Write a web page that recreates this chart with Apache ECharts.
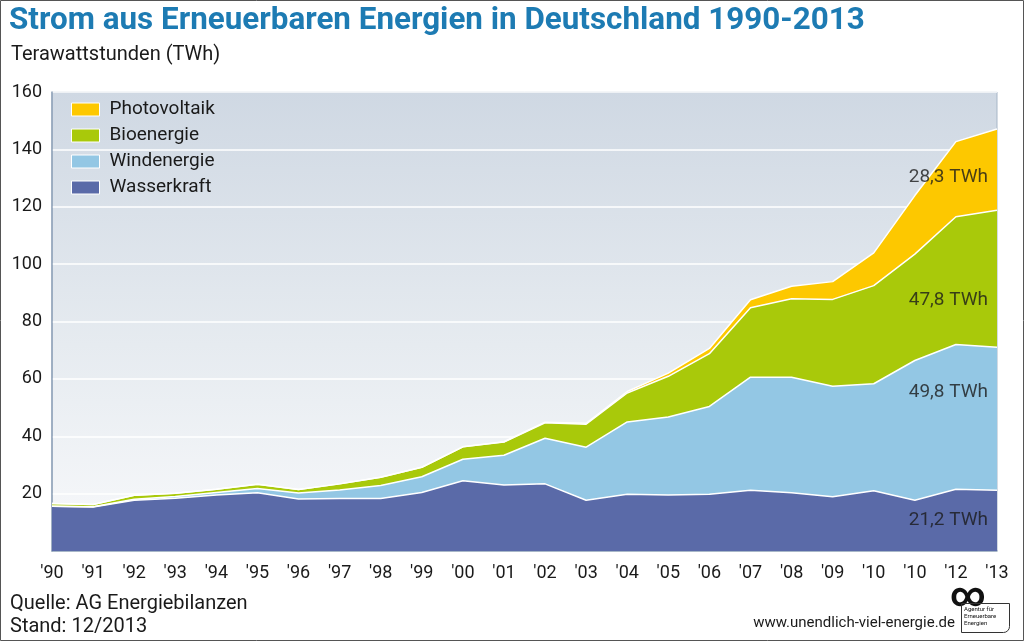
<!DOCTYPE html>
<html><head><meta charset="utf-8">
<script src="https://cdn.jsdelivr.net/npm/echarts@6/dist/echarts.min.js"></script>
<style>html,body{margin:0;padding:0;background:#fff}#c{width:1024px;height:641px}</style>
</head><body><div id="c"></div>
<script>
const years = ["'90","'91","'92","'93","'94","'95","'96","'97","'98","'99","'00","'01","'02","'03","'04","'05","'06","'07","'08","'09","'10","'10","'12","'13"];
const wasserkraft = [15.6,15.3,17.7,18.4,19.5,20.3,18.1,18.3,18.3,20.4,24.5,23.0,23.4,17.7,19.8,19.5,19.8,21.2,20.3,18.9,21.0,17.7,21.5,21.2];
const windenergie = [0.0,0.1,0.3,0.6,0.9,1.5,2.1,3.0,4.5,5.5,7.5,10.4,15.9,18.5,25.2,27.2,30.6,39.4,40.3,38.5,37.3,48.7,50.5,49.8];
const bioenergie  = [1.0,0.8,1.4,1.1,1.1,1.5,1.2,2.1,2.9,3.3,4.3,4.6,5.4,8.0,10.1,14.2,18.4,24.2,27.3,30.3,34.2,37.1,44.5,47.8];
const photovoltaik= [0.0,0.0,0.0,0.0,0.0,0.0,0.0,0.0,0.0,0.0,0.0,0.1,0.2,0.3,0.5,1.1,1.8,2.8,4.4,6.2,11.4,20.4,26.2,28.3];
const yTicks = [0,20,40,60,80,100,120,140,160];
const endLabels = ["21,2 TWh","49,8 TWh","47,8 TWh","28,3 TWh"];
const endLabelY = [10.8,55.3,87.3,130.4];

const FONT = 'Roboto';
const chart = echarts.init(document.getElementById('c'), null, {renderer:'canvas'});
function area(name, data, color){
  return {name, type:'line', stack:'total', data, symbol:'none', smooth:false,
    lineStyle:{color:'#ffffff', width:1.5}, itemStyle:{color},
    areaStyle:{color, opacity:1}, emphasis:{disabled:true}, z:2};
}
chart.setOption({
  animation:false,
  textStyle:{fontFamily:FONT},
  grid:{left:52, right:27, top:92, bottom:90, show:true,
    backgroundColor:new echarts.graphic.LinearGradient(0,0,0,1,[{offset:0,color:'#cfd8e3'},{offset:0.55,color:'#e6ebf0'},{offset:1,color:'#f8f9fb'}]),
    borderColor:'#a7b6c7', borderWidth:1},
  legend:{orient:'vertical', left:66, top:95, itemGap:7, itemWidth:28, itemHeight:13,
    data:['Photovoltaik','Bioenergie','Windenergie','Wasserkraft'],
    textStyle:{fontSize:19, color:'#1a1a1a', fontFamily:FONT, padding:[0,0,0,5]},
    itemStyle:{borderColor:'#ffffff', borderWidth:1}, icon:'rect', selectedMode:false},
  xAxis:{type:'category', data:years, boundaryGap:false,
    axisLine:{lineStyle:{color:'#8fa2b8', width:1.5}}, axisTick:{show:false},
    axisLabel:{fontSize:18, color:'#1a1a1a', margin:13, interval:0, fontFamily:FONT}},
  yAxis:{type:'value', min:yTicks[0], max:yTicks[yTicks.length-1], interval:20,
    axisLine:{show:true, lineStyle:{color:'#8fa2b8', width:1.5}}, axisTick:{show:false},
    axisLabel:{fontSize:18, color:'#1a1a1a', margin:10, fontFamily:FONT, formatter:v=>v===0?'':String(v)},
    splitLine:{lineStyle:{color:'#ffffff', width:1.5}}},
  series:[
    area('Wasserkraft', wasserkraft, '#5a6aa8'),
    area('Windenergie', windenergie, '#93c7e4'),
    area('Bioenergie', bioenergie, '#a9c90a'),
    area('Photovoltaik', photovoltaik, '#fdc800'),
    {type:'scatter', symbolSize:0, silent:true, z:5,
     data:endLabelY.map((v,i)=>({value:[years.length-1, v], name:endLabels[i]})),
     label:{show:true, position:'left', distance:9, formatter:p=>p.name, fontSize:19, color:'#1a1a1a', fontFamily:FONT}}
  ],
  graphic:[
    {type:'rect', shape:{x:0.5,y:0.5,width:1023,height:640}, style:{fill:'none', stroke:'#555', lineWidth:1}, silent:true},
    {type:'text', left:9, top:6, style:{text:'Strom aus Erneuerbaren Energien in Deutschland 1990-2013', fill:'#1d7bb3', font:'bold 31.4px '+FONT}},
    {type:'text', left:11, top:45, style:{text:'Terawattstunden (TWh)', fill:'#1a1a1a', font:'20px '+FONT}},
    {type:'text', left:10, top:594, style:{text:'Quelle: AG Energiebilanzen', fill:'#1a1a1a', font:'20px '+FONT}},
    {type:'text', left:10, top:617, style:{text:'Stand: 12/2013', fill:'#1a1a1a', font:'20px '+FONT}},
    {type:'text', right:69, top:616, style:{text:'www.unendlich-viel-energie.de', fill:'#1a1a1a', font:'15px '+FONT}},
    {type:'text', left:950, top:580, style:{text:'∞', fill:'#111', font:'bold 34px '+FONT}},
    {type:'rect', shape:{x:961.5,y:603.5,width:48,height:29,r:[0,0,6,0]}, style:{fill:'none', stroke:'#333', lineWidth:1}},
    {type:'text', left:964, top:606, style:{text:'Agentur für\nErneuerbare\nEnergien', fill:'#111', font:'6px '+FONT, lineHeight:7}}
  ]
});
</script></body></html>
